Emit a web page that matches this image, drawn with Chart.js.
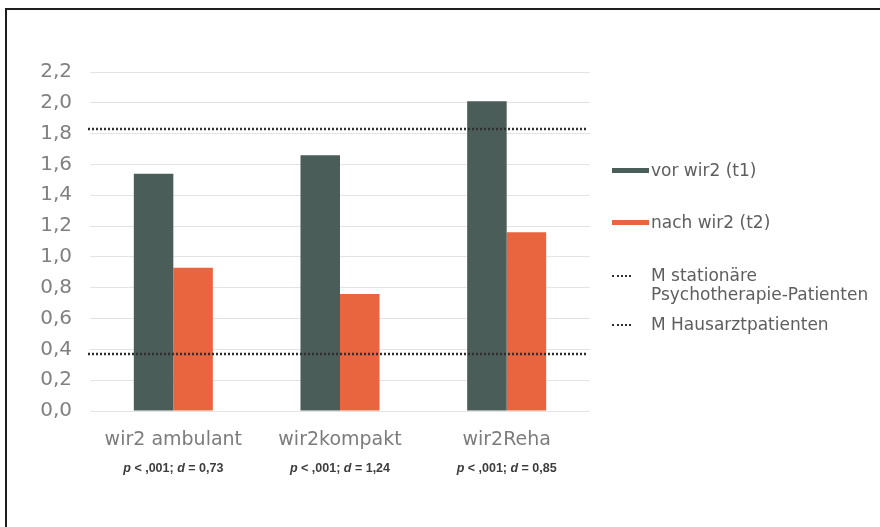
<!DOCTYPE html>
<html>
<head>
<meta charset="utf-8">
<script src="https://cdn.jsdelivr.net/npm/chart.js@4"></script>
<style>
  html, body { margin: 0; padding: 0; background: #fff; overflow: hidden; }
  #wrap { position: relative; width: 880px; height: 527px; }
  #frame { position: absolute; left: 5px; top: 8px; width: 900px; height: 600px;
           border-top: 2px solid #1e1e1e; border-left: 2px solid #1e1e1e; }
  canvas { position: absolute; left: 0; top: 0; }
  #legend { position: absolute; left: 612px; top: 0; font-family: "DejaVu Sans", sans-serif;
            font-size: 17px; color: #5e5e5e; }
  .item { position: absolute; left: 0; white-space: nowrap; line-height: 19px; }
  .sw { position: absolute; left: 0; width: 37px; }
  .txt { position: absolute; left: 39px; top: 0; }
</style>
</head>
<body>
<div id="wrap">
  <div id="frame"></div>
  <canvas id="chart" width="880" height="527"></canvas>
  <div id="legend"></div>
</div>
<script>
const categories = ['wir2 ambulant', 'wir2kompakt', 'wir2Reha'];
const vorT1 = [1.54, 1.66, 2.01];
const nachT2 = [0.93, 0.76, 1.16];
const pValues = ['< ,001', '< ,001', '< ,001'];
const dValues = ['0,73', '1,24', '0,85'];
const refLabels = [['M stationäre', 'Psychotherapie-Patienten'], ['M Hausarztpatienten']];
const refValues = [1.83, 0.37];
const yTicks = ['0,0', '0,2', '0,4', '0,6', '0,8', '1,0', '1,2', '1,4', '1,6', '1,8', '2,0', '2,2'];

const darkColor = '#4b5d59';
const orangeColor = '#e9653f';
const dotColor = '#2e2e2e';

// dotted reference lines, drawn over the bars
const refLinesPlugin = {
    id: 'refLines',
    afterDatasetsDraw(chart) {
        const ctx = chart.ctx;
        const y = chart.scales.y;
        const area = chart.chartArea;
        ctx.save();
        ctx.strokeStyle = dotColor;
        ctx.lineWidth = 2.5;
        ctx.setLineDash([2, 2]);
        refValues.forEach(v => {
            const py = Math.round(y.getPixelForValue(v));
            ctx.beginPath();
            ctx.moveTo(area.left - 2, py);
            ctx.lineTo(area.right - 2, py);
            ctx.stroke();
        });
        ctx.restore();
    }
};

// p < ,001; d = ... under each category
const statsPlugin = {
    id: 'stats',
    afterDraw(chart) {
        const ctx = chart.ctx;
        const x = chart.scales.x;
        const y = 469;
        const bold = 'bold 12.5px "Liberation Sans", Arial, sans-serif';
        const boldIt = 'italic bold 12.5px "Liberation Sans", Arial, sans-serif';
        ctx.save();
        ctx.fillStyle = '#3c3c3c';
        ctx.textBaseline = 'middle';
        ctx.textAlign = 'left';
        categories.forEach((c, i) => {
            const parts = [
                [boldIt, 'p'], [bold, ' ' + pValues[i] + '; '],
                [boldIt, 'd'], [bold, ' = ' + dValues[i]]
            ];
            let total = 0;
            parts.forEach(p => { ctx.font = p[0]; total += ctx.measureText(p[1]).width; });
            let cx = x.getPixelForValue(i) - total / 2;
            parts.forEach(p => {
                ctx.font = p[0];
                ctx.fillText(p[1], cx, y);
                cx += ctx.measureText(p[1]).width;
            });
        });
        ctx.restore();
    }
};

const ctx = document.getElementById('chart').getContext('2d');
const chart = new Chart(ctx, {
    type: 'bar',
    data: {
        labels: categories,
        datasets: [
            {
                label: 'vor wir2 (t1)',
                data: vorT1,
                backgroundColor: darkColor,
                barPercentage: 1,
                categoryPercentage: 0.474
            },
            {
                label: 'nach wir2 (t2)',
                data: nachT2,
                backgroundColor: orangeColor,
                barPercentage: 1,
                categoryPercentage: 0.474
            }
        ]
    },
    options: {
        responsive: false,
        animation: false,
        devicePixelRatio: 1,
        layout: { padding: { left: 0, right: 290, top: 72, bottom: 0 } },
        plugins: {
            legend: { display: false },
            tooltip: { enabled: false }
        },
        scales: {
            x: {
                grid: { display: false, drawTicks: false },
                border: { display: false },
                ticks: {
                    padding: 18,
                    color: '#7c7c7c',
                    font: { family: '"DejaVu Sans", sans-serif', size: 19 }
                },
                afterFit: s => { s.height = 116; }
            },
            y: {
                min: 0,
                max: 2.2,
                grid: { color: '#e4e4e4', lineWidth: 1, drawTicks: false },
                border: { display: false },
                ticks: {
                    stepSize: 0.2,
                    padding: 18,
                    color: '#808080',
                    font: { family: '"DejaVu Sans", sans-serif', size: 20 },
                    callback: (v, i) => yTicks[i]
                },
                afterFit: s => { s.width = 90; }
            }
        }
    },
    plugins: [refLinesPlugin, statsPlugin]
});

// legend: two bar swatches, then the two dotted reference lines
const legendRows = [
    { top: 161, color: darkColor, lines: [chart.data.datasets[0].label], kind: 'bar' },
    { top: 213, color: orangeColor, lines: [chart.data.datasets[1].label], kind: 'bar' },
    { top: 266, color: dotColor, lines: refLabels[0], kind: 'dot' },
    { top: 315, color: dotColor, lines: refLabels[1], kind: 'dot' }
];
const legendEl = document.getElementById('legend');
legendRows.forEach(r => {
    const item = document.createElement('div');
    item.className = 'item';
    item.style.top = r.top + 'px';
    const sw = document.createElement('div');
    sw.className = 'sw';
    if (r.kind === 'bar') {
        sw.style.top = '7px';
        sw.style.height = '5px';
        sw.style.background = r.color;
    } else {
        sw.style.top = '9px';
        sw.style.width = '19px';
        sw.style.borderTop = '2px dotted ' + r.color;
    }
    const txt = document.createElement('div');
    txt.className = 'txt';
    txt.innerHTML = r.lines.join('<br>');
    item.appendChild(sw);
    item.appendChild(txt);
    legendEl.appendChild(item);
});
</script>
</body>
</html>
